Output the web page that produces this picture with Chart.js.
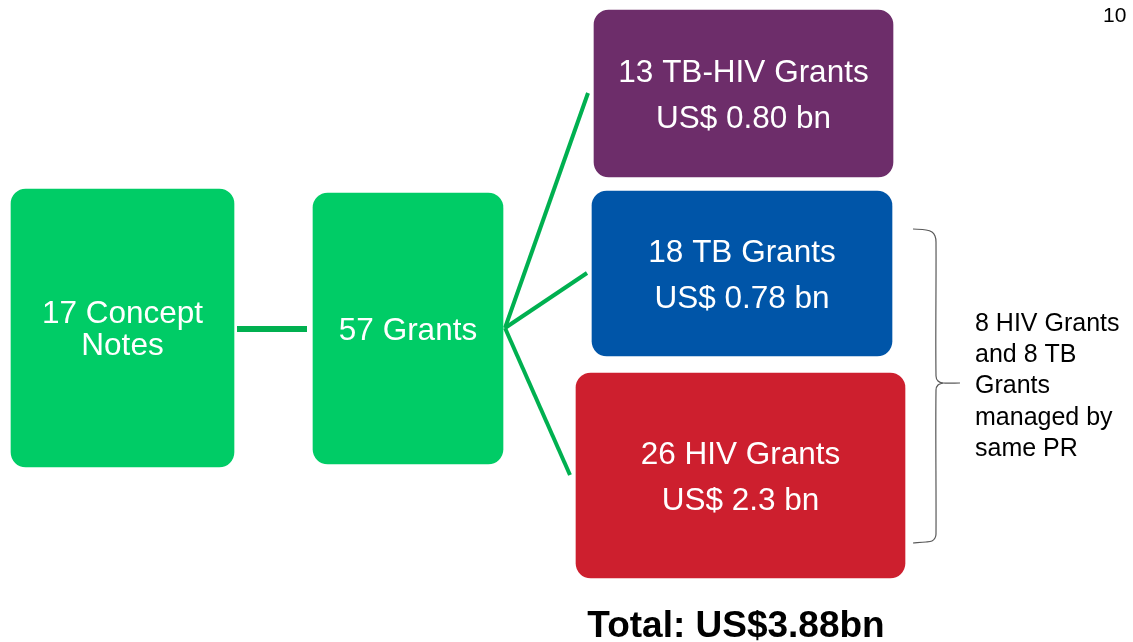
<!DOCTYPE html>
<html>
<head>
<meta charset="utf-8">
<script src="https://cdn.jsdelivr.net/npm/chart.js@4.4.1/dist/chart.umd.min.js"></script>
<style>
  html, body { margin: 0; padding: 0; background: #ffffff; }
  #wrap { width: 1133px; height: 642px; position: relative; }
</style>
</head>
<body>
<div id="wrap"><canvas id="c" width="1133" height="642"></canvas></div>
<script>
// ---- data (diagram coordinates, in a 1133 x 642 unit space) ----
const boxTexts = [
  ['17 Concept', 'Notes'],
  ['57 Grants'],
  ['13 TB-HIV Grants', 'US$ 0.80 bn'],
  ['18 TB Grants', 'US$ 0.78 bn'],
  ['26 HIV Grants', 'US$ 2.3 bn']
];
const boxLeft   = [11, 313, 594, 592, 576];
const boxRight  = [234, 503, 893, 892, 905];
const boxTop    = [189, 193, 10, 191, 373];
const boxBottom = [467, 464, 177, 356, 578];

const linkFromX = [237, 505, 505, 505];
const linkFromY = [329, 328, 328, 328];
const linkToX   = [307, 588, 587, 570];
const linkToY   = [329, 93, 273, 475];

const braceTopX = [913, 926, 932, 935, 936, 936, 938, 943, 960];
const braceTopY = [229, 230, 232, 236, 242, 376, 381, 383, 383];
const braceBotX = [943, 938, 936, 936, 935, 932, 926, 913];
const braceBotY = [383, 385, 390, 534, 538, 541, 542, 543];

const noteLines = ['8 HIV Grants', 'and 8 TB', 'Grants', 'managed by', 'same PR'];
const noteX = 975;
const noteY = [331, 362, 393, 425, 456];

const totalText = 'Total: US$3.88bn';
const totalX = 736;
const totalY = 637;

const pageText = '10';
const pageX = 1103;
const pageY = 22;

// ---- styles ----
const boxColors = ['#00CC66', '#00CC66', '#6D2D6A', '#0055A8', '#CD1F2E'];
const boxLineHeights = [32, 46, 46, 46, 46];
const boxRadius = 15;
const linkColor = '#00B050';
const linkWidths = [6, 4, 4, 4];
const FONT = '"Liberation Sans", Arial, Helvetica, sans-serif';

// ---- datasets ----
const datasets = [];
boxTexts.forEach((t, i) => {
  datasets.push({
    type: 'bar',
    label: t.join(' '),
    data: [{ x: (boxLeft[i] + boxRight[i]) / 2, y: [boxTop[i], boxBottom[i]] }],
    backgroundColor: boxColors[i],
    borderWidth: 0,
    borderRadius: boxRadius,
    borderSkipped: false,
    barThickness: boxRight[i] - boxLeft[i],
    stack: 'boxes',
    order: 1
  });
});
linkFromX.forEach((fx, i) => {
  datasets.push({
    type: 'line',
    label: 'link' + i,
    data: [{ x: fx, y: linkFromY[i] }, { x: linkToX[i], y: linkToY[i] }],
    borderColor: linkColor,
    borderWidth: linkWidths[i],
    pointRadius: 0,
    fill: false,
    order: 2
  });
});
datasets.push({
  type: 'line', label: 'braceTop',
  data: braceTopX.map((x, i) => ({ x, y: braceTopY[i] })),
  borderColor: '#595959', borderWidth: 1.2, pointRadius: 0, fill: false, tension: 0.3, order: 2
});
datasets.push({
  type: 'line', label: 'braceBottom',
  data: braceBotX.map((x, i) => ({ x, y: braceBotY[i] })),
  borderColor: '#595959', borderWidth: 1.2, pointRadius: 0, fill: false, tension: 0.3, order: 2
});

// ---- text plugin (positions resolved through the chart's scales) ----
const textPlugin = {
  id: 'diagramText',
  afterDatasetsDraw(chart) {
    const ctx = chart.ctx;
    const sx = chart.scales.x, sy = chart.scales.y;
    ctx.save();
    ctx.textBaseline = 'alphabetic';
    const fs = 31.5;
    ctx.font = fs + 'px ' + FONT;
    ctx.fillStyle = '#ffffff';
    ctx.textAlign = 'center';
    boxTexts.forEach((lines, i) => {
      const cx = sx.getPixelForValue((boxLeft[i] + boxRight[i]) / 2);
      const cy = sy.getPixelForValue((boxTop[i] + boxBottom[i]) / 2);
      const lh = boxLineHeights[i];
      const first = cy - (lines.length - 1) * lh / 2 + fs * 0.35;
      lines.forEach((ln, k) => ctx.fillText(ln, cx, first + k * lh));
    });
    ctx.font = '25px ' + FONT;
    ctx.fillStyle = '#000000';
    ctx.textAlign = 'left';
    noteLines.forEach((ln, k) => ctx.fillText(ln, sx.getPixelForValue(noteX), sy.getPixelForValue(noteY[k])));
    ctx.font = 'bold 37px ' + FONT;
    ctx.textAlign = 'center';
    ctx.fillText(totalText, sx.getPixelForValue(totalX), sy.getPixelForValue(totalY));
    ctx.font = '21px ' + FONT;
    ctx.textAlign = 'left';
    ctx.fillText(pageText, sx.getPixelForValue(pageX), sy.getPixelForValue(pageY));
    ctx.restore();
  }
};

new Chart(document.getElementById('c'), {
  data: { datasets },
  options: {
    responsive: false,
    animation: false,
    events: [],
    layout: { padding: 0 },
    plugins: { legend: { display: false }, tooltip: { enabled: false }, title: { display: false } },
    scales: {
      x: { type: 'linear', min: 0, max: 1133, display: false, offset: false, grid: { offset: false } },
      y: { type: 'linear', min: 0, max: 642, reverse: true, display: false, stacked: false, offset: false }
    }
  },
  plugins: [textPlugin]
});
</script>
</body>
</html>
